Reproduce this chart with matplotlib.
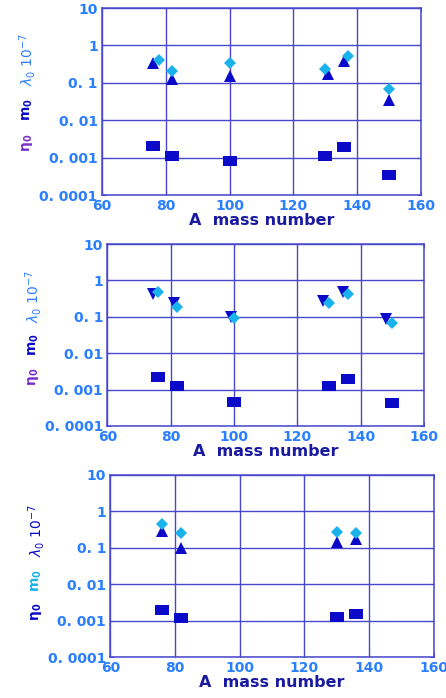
import matplotlib
matplotlib.use("Agg")
import matplotlib.pyplot as plt
from matplotlib.ticker import FixedLocator, FixedFormatter, NullLocator

# mass numbers and parameter values for the three panels
A_top = [76, 82, 100, 130, 136, 150]
lam_top_A = [78, 82, 100, 130, 137, 150]
lam_top = [0.40, 0.21, 0.33, 0.23, 0.52, 0.067]
m_top_A = [76, 82, 100, 131, 136, 150]
m_top = [0.34, 0.126, 0.15, 0.17, 0.39, 0.035]
eta_top = [0.0021, 0.00112, 0.00083, 0.00112, 0.00195, 0.00034]

A_mid = [76, 82, 100, 130, 136, 150]
lam_mid = [0.47, 0.19, 0.095, 0.245, 0.42, 0.066]
m_mid_A = [74.5, 81, 99, 128, 134.5, 148]
m_mid = [0.42, 0.245, 0.098, 0.27, 0.48, 0.085]
eta_mid = [0.0022, 0.00128, 0.00046, 0.00128, 0.00195, 0.00044]

A_bot = [76, 82, 130, 136]
lam_bot = [0.46, 0.26, 0.275, 0.26]
m_bot = [0.29, 0.096, 0.144, 0.178]
eta_bot = [0.0020, 0.00117, 0.00129, 0.0015]

ytick_vals = [1e-4, 1e-3, 1e-2, 1e-1, 1, 10]
ytick_text = ["0. 0001", "0. 001", "0. 01", "0. 1", "1", "10"]
xtick_vals = [60, 80, 100, 120, 140, 160]

DARK = "#0a0ac8"
CYAN = "#19b2ea"
TICK = "#2a7fff"
GRID = "#4848cc"
PURPLE = "#7a2fc8"
NAVY = "#1a1aa0"

rect = [(-1, -0.7), (1, -0.7), (1, 0.7), (-1, 0.7), (-1, -0.7)]

fig = plt.figure(figsize=(4.46, 6.98), dpi=100)
boxes = [
    [0.2287, 0.7206, 0.7152, 0.2679],
    [0.2406, 0.3897, 0.7101, 0.2607],
    [0.2473, 0.0583, 0.7251, 0.2616],
]


def setup(ax):
    ax.set_yscale("log")
    ax.set_xlim(60, 160)
    ax.set_ylim(1e-4, 10)
    ax.yaxis.set_major_locator(FixedLocator(ytick_vals))
    ax.yaxis.set_major_formatter(FixedFormatter(ytick_text))
    ax.yaxis.set_minor_locator(NullLocator())
    ax.xaxis.set_major_locator(FixedLocator(xtick_vals))
    ax.grid(True, color=GRID, lw=1.0)
    for s in ax.spines.values():
        s.set_color(GRID)
        s.set_linewidth(1.1)
    ax.tick_params(which="both", direction="in", length=3, color=GRID,
                   labelcolor=TICK, labelsize=10, pad=3,
                   top=True, right=True)
    for lab in ax.get_xticklabels() + ax.get_yticklabels():
        lab.set_fontweight("bold")
    ax.set_xlabel("A  mass number", color=NAVY, fontsize=11.5,
                  fontweight="bold", labelpad=0)
    ax.set_axisbelow(True)


def ylabel(ax, cols, x, ys):
    # stacked, rotated label: eta_0, m_0, lambda_0 10^-7
    tr = ax.transAxes
    ax.text(x, ys[0], r"$\mathbf{\eta_0}$", color=cols[0], rotation=90,
            transform=tr, fontsize=10, ha="center", va="center")
    ax.text(x, ys[1], r"$\mathbf{m_0}$", color=cols[1], rotation=90,
            transform=tr, fontsize=10, ha="center", va="center")
    ax.text(x, ys[2], r"$\lambda_0$ $10^{-7}$",
            color=cols[2], rotation=90, transform=tr, fontsize=10,
            ha="center", va="center")


# top panel
ax1 = fig.add_axes(boxes[0])
setup(ax1)
ax1.plot(m_top_A, m_top, ls="none", marker="^", ms=9, color=DARK, mew=0)
ax1.plot(lam_top_A, lam_top, ls="none", marker="D", ms=6.5, color=CYAN, mew=0)
ax1.plot(A_top, eta_top, ls="none", marker=rect, ms=9.5, color=DARK, mew=0)
ylabel(ax1, [PURPLE, DARK, TICK], -0.232, [0.278, 0.455, 0.727])

# middle panel
ax2 = fig.add_axes(boxes[1])
setup(ax2)
ax2.plot(m_mid_A, m_mid, ls="none", marker="v", ms=9, color=DARK, mew=0)
ax2.plot(A_mid, lam_mid, ls="none", marker="D", ms=6.5, color=CYAN, mew=0)
ax2.plot(A_mid, eta_mid, ls="none", marker=rect, ms=9.5, color=DARK, mew=0)
ylabel(ax2, [PURPLE, DARK, TICK], -0.232, [0.27, 0.45, 0.714])

# bottom panel
ax3 = fig.add_axes(boxes[2])
setup(ax3)
ax3.plot(A_bot, m_bot, ls="none", marker="^", ms=9, color=DARK, mew=0)
ax3.plot(A_bot, lam_bot, ls="none", marker="D", ms=6.5, color=CYAN, mew=0)
ax3.plot(A_bot, eta_bot, ls="none", marker=rect, ms=9.5, color=DARK, mew=0)
ylabel(ax3, [DARK, CYAN, DARK], -0.227, [0.25, 0.42, 0.697])

fig.savefig("out.png", dpi=100)
